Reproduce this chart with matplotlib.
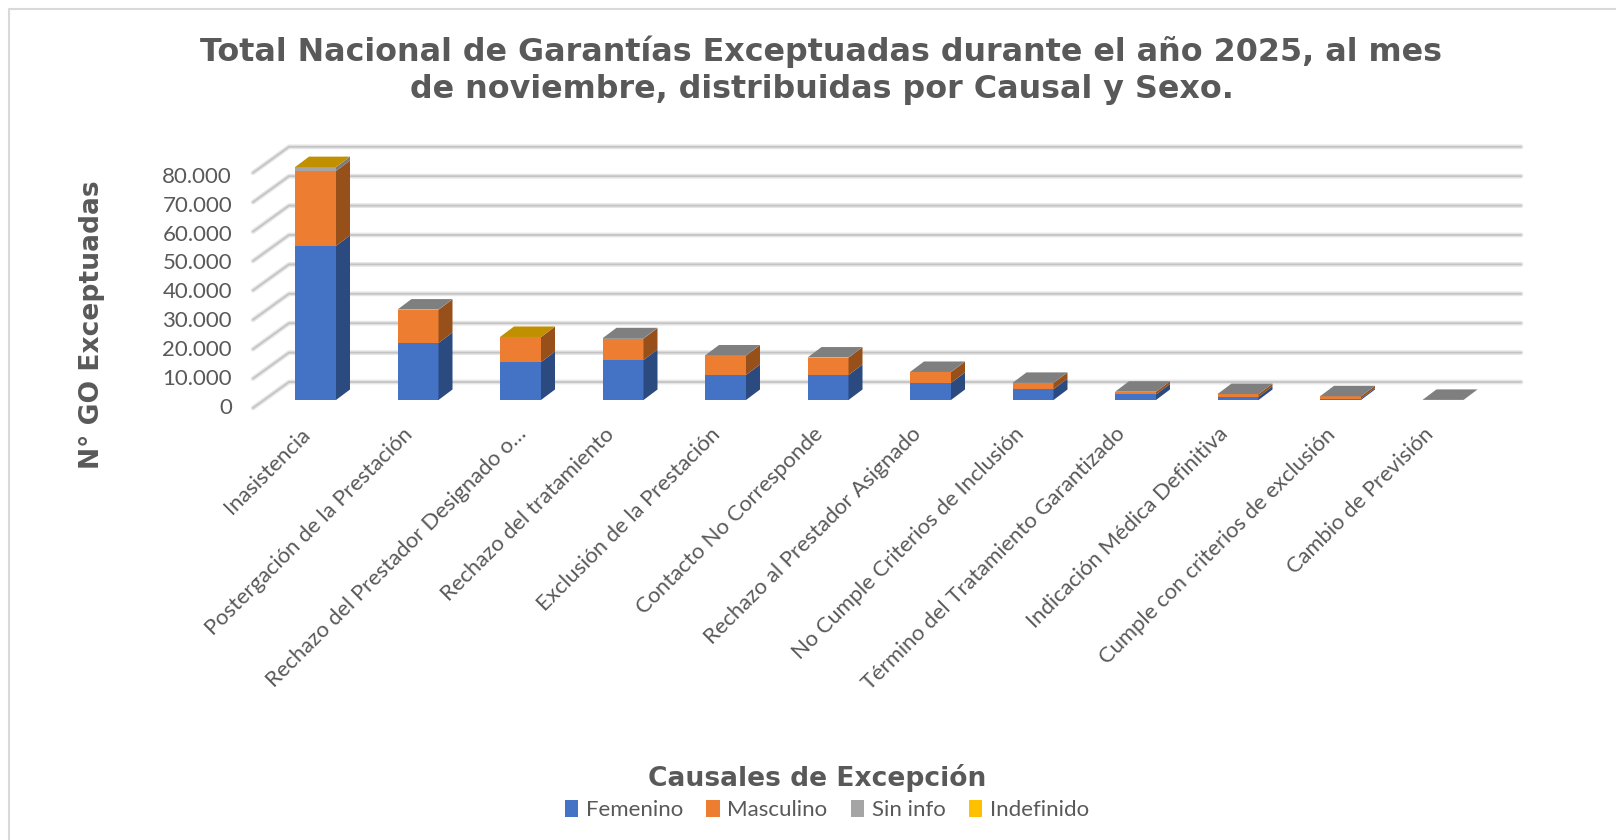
import matplotlib
matplotlib.use("Agg")
import matplotlib.pyplot as plt
from matplotlib.patches import Patch, Polygon

title = "Total Nacional de Garantías Exceptuadas durante el año 2025, al mes\nde noviembre, distribuidas por Causal y Sexo."
y_title = "N° GO Exceptuadas"
x_title = "Causales de Excepción"
categories = [
    "Inasistencia", "Postergación de la Prestación",
    "Rechazo del Prestador Designado o…", "Rechazo del tratamiento",
    "Exclusión de la Prestación", "Contacto No Corresponde",
    "Rechazo al Prestador Asignado", "No Cumple Criterios de Inclusión",
    "Término del Tratamiento Garantizado", "Indicación Médica Definitiva",
    "Cumple con criterios de exclusión", "Cambio de Previsión",
]
femenino = [52400, 19400, 12900, 13600, 8500, 8500, 5800, 3700, 1900, 1100, 450, 15]
masculino = [25500, 11300, 8500, 7300, 6600, 5900, 3700, 2100, 900, 900, 800, 15]
sin_info = [1300, 60, 30, 90, 40, 40, 30, 20, 15, 15, 10, 5]
indefinido = [8, 0, 6, 0, 0, 0, 0, 0, 0, 0, 0, 0]
series_names = ["Femenino", "Masculino", "Sin info", "Indefinido"]
y_ticks = [0, 10000, 20000, 30000, 40000, 50000, 60000, 70000, 80000]
y_tick_labels = ["0", "10.000", "20.000", "30.000", "40.000", "50.000", "60.000", "70.000", "80.000"]
label_shift_px = [0, 0, 11, -4, 0, 0, -4, -4, -5, -5, 0, -4]

front = ["#4472C4", "#ED7D31", "#A5A5A5", "#FFC000"]
side = ["#2A4A80", "#98501B", "#7C7C7C", "#A67C00"]
top = ["#30528F", "#B25D22", "#7F7F7F", "#C09000"]
TEXT = "#595959"

W, H = 1616, 840
fig = plt.figure(figsize=(W / 100, H / 100), dpi=100)
ax = fig.add_axes([0, 0, 1, 1])

# category and value scales for the plane of the bar fronts
X0, DX = 315.5, 102.5
Y0, PER = 400.0, 29.4 / 10000
px = lambda p: (p - X0) / DX
vy = lambda p: (Y0 - p) / PER
ax.set_xlim(px(0), px(W))
ax.set_ylim(vy(H), vy(0))
ax.axis("off")

# depth of a bar and of the floor, in data units
bar_w = 41 / DX
dep_x, dep_y = 14 / DX, 10.5 * 1 / PER
back_x, back_dy = px(289), 18 / PER
fr_x, fr_dy = px(253), -8 / PER
end_x = px(1521)

for v in y_ticks:
    xs = [fr_x, back_x, end_x]
    ys = [v + fr_dy, v + back_dy, v + back_dy]
    ax.plot(xs, ys, color="#E6E6E6", lw=3.4, zorder=1, solid_capstyle="round", solid_joinstyle="round")
    ax.plot(xs, ys, color="#C4C4C4", lw=1.3, zorder=1.1, solid_capstyle="round", solid_joinstyle="round")

for i in range(len(categories)):
    vals = [femenino[i], masculino[i], sin_info[i], indefinido[i]]
    xl, xr = i - bar_w / 2, i + bar_w / 2
    base = 0
    last = 0
    for s, v in enumerate(vals):
        if v <= 0:
            continue
        ax.bar(i, v, width=bar_w, bottom=base, color=front[s], linewidth=0, zorder=3)
        ax.add_patch(Polygon([(xr, base), (xr + dep_x, base + dep_y),
                              (xr + dep_x, base + v + dep_y), (xr, base + v)],
                             closed=True, fc=side[s], ec="none", zorder=3))
        base += v
        last = s
    ax.add_patch(Polygon([(xl, base), (xr, base), (xr + dep_x, base + dep_y), (xl + dep_x, base + dep_y)],
                         closed=True, fc=top[last], ec="none", zorder=3))

lab_font = ["Lato", "DejaVu Sans"]
for v, lab in zip(y_ticks, y_tick_labels):
    ax.text(px(232), v * 0.98 - 7.5 / PER, lab, ha="right", va="center", fontsize=16,
            family=lab_font, color=TEXT)
for i, c in enumerate(categories):
    ax.text(i - 0.15 + label_shift_px[i] / DX, vy(424), c, rotation=45, rotation_mode="anchor",
            ha="right", va="top", fontsize=15.85, family=lab_font, color=TEXT)

fig.text(821.5 / W, 1 - 70.5 / H, title, ha="center", va="center", fontsize=22.85, fontweight="bold",
         family="DejaVu Sans", color=TEXT, linespacing=1.24)
fig.text(92 / W, 1 - 325 / H, y_title, rotation=90, ha="center", va="center", fontsize=19.1,
         fontweight="bold", family="DejaVu Sans", color=TEXT)
fig.text(817 / W, 1 - 778 / H, x_title, ha="center", va="center", fontsize=19.1,
         fontweight="bold", family="DejaVu Sans", color=TEXT)

handles = [Patch(fc=c, ec="none", label=n) for c, n in zip(front, series_names)]
fig.legend(handles=handles, loc="center", bbox_to_anchor=(827 / W, 1 - 810 / H), ncol=4, frameon=False,
           prop={"family": "Lato", "size": 16}, labelcolor=TEXT, handlelength=0.6, handleheight=0.85,
           handletextpad=0.35, columnspacing=1.05, borderpad=0)

ax.plot([px(9), px(9), px(W)], [vy(H), vy(9), vy(9)], color="#D9D9D9", lw=1.5, zorder=0, clip_on=False)

fig.savefig("out.png", dpi=100, facecolor="white")
